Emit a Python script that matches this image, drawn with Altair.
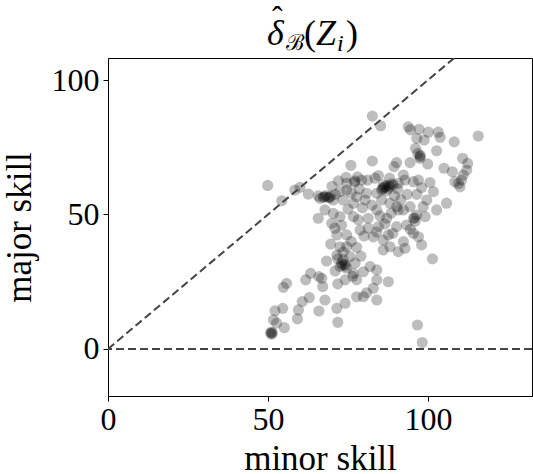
import altair as alt
import pandas as pd

minor = [82.6, 85.2, 93.8, 94.5, 97.2, 100.1, 103.2, 103.8, 96.5, 98.8, 108.2, 115.7, 96.1, 96.8, 97.5,
         102.7, 97.5, 110.8, 112.4, 94.4, 99.9, 90.2, 89.4, 82.6, 75.9, 105.0, 107.6, 112.1, 111.0, 110.5,
         108.4, 110.0, 109.5, 49.9, 54.3, 58.4, 60.0, 62.6, 65.7, 67.3, 68.8, 70.4, 66.3, 68.0, 69.5,
         74.4, 74.6, 77.2, 79.3, 81.1, 83.4, 86.6, 85.5, 87.6, 86.0, 88.0, 87.0, 89.2, 90.7, 92.3,
         92.8, 95.4, 97.0, 100.6, 101.7, 99.6, 98.5, 105.8, 102.7, 99.1, 96.5, 95.5, 96.0, 94.4, 92.3,
         90.2, 88.1, 85.5, 84.0, 80.8, 80.3, 77.7, 76.7, 74.6, 72.5, 73.5, 70.4, 67.8, 65.7, 69.9,
         72.5, 76.7, 78.2, 81.3, 84.0, 87.1, 84.5, 81.3, 78.8, 82.9, 86.0, 87.6, 90.2, 90.7, 93.3,
         95.4, 97.0, 98.0, 92.3, 90.7, 92.8, 86.0, 88.1, 101.4, 70.9, 71.5, 74.6, 69.6, 72.5, 74.6,
         77.7, 71.5, 73.5, 75.6, 77.2, 72.5, 74.6, 73.0, 74.0, 68.3, 81.9, 84.0, 79.8, 76.7, 77.7,
         84.0, 87.6, 74.1, 71.8, 82.9, 80.8, 79.8, 77.7, 84.0, 74.1, 71.5, 71.8, 63.3, 61.8, 66.8,
         67.1, 65.9, 55.8, 54.8, 62.9, 60.7, 59.5, 59.2, 65.9, 67.8, 54.6, 52.2, 51.7, 52.7, 55.1,
         50.8, 51.0, 51.2, 96.7, 98.2, 78.5, 76.0, 79.5, 82.5, 85.0, 88.5, 91.5, 93.5, 96.5, 98.0,
         89.5, 75.0, 73.0, 70.0, 71.0, 72.0, 78.0, 84.5, 90.5, 88.0, 80.0, 84.0, 89.0, 94.5, 73.5,
         76.0, 79.0, 71.0, 76.5, 86.5, 86.2, 87.4, 85.8, 88.6, 67.6, 69.2, 73.2, 74.2, 51.3, 95.8,
         77.0, 71.8, 97.6]

major = [86.6, 83.0, 82.6, 81.5, 81.7, 80.6, 80.6, 78.7, 78.3, 77.7, 77.0, 79.2, 74.6, 72.7, 71.5,
         73.7, 70.9, 70.9, 69.0, 69.3, 68.8, 69.3, 67.8, 69.9, 68.3, 67.2, 65.9, 66.5, 64.7, 62.8,
         62.2, 60.3, 61.5, 60.8, 55.1, 59.1, 60.1, 57.6, 56.9, 56.4, 56.4, 55.4, 56.0, 57.0, 56.8,
         63.8, 61.6, 62.5, 62.8, 62.8, 63.5, 60.3, 59.1, 59.7, 61.0, 60.5, 58.8, 61.0, 61.6, 64.7,
         62.8, 62.2, 62.8, 61.9, 58.5, 55.4, 52.9, 54.2, 51.7, 49.2, 49.8, 48.5, 47.5, 52.9, 51.7,
         52.9, 54.2, 55.4, 57.9, 57.9, 55.4, 56.6, 54.2, 59.1, 58.5, 55.4, 50.4, 51.7, 48.6, 46.7,
         49.2, 49.2, 48.0, 48.6, 51.7, 48.6, 45.5, 44.9, 44.2, 41.7, 40.5, 42.4, 45.5, 51.7, 46.1,
         43.0, 41.7, 38.7, 39.9, 36.2, 37.4, 36.8, 38.0, 33.5, 44.9, 42.4, 42.4, 39.0, 38.0, 38.0,
         37.8, 34.9, 33.1, 34.3, 31.9, 30.6, 30.0, 32.0, 31.5, 32.7, 30.6, 29.4, 28.7, 28.1, 25.7,
         25.7, 25.0, 25.7, 24.2, 22.6, 20.9, 19.4, 19.4, 18.2, 17.0, 15.1, 9.9, 28.1, 25.7, 26.3,
         23.2, 26.9, 24.4, 22.9, 19.1, 17.6, 14.5, 11.2, 14.1, 18.2, 15.1, 14.2, 10.8, 9.6, 7.9,
         5.8, 6.3, 5.5, 8.9, 2.4, 59.5, 58.0, 52.5, 53.5, 49.5, 50.5, 55.5, 57.5, 57.5, 60.0,
         57.0, 52.0, 46.0, 60.5, 57.5, 62.5, 64.0, 64.5, 59.5, 63.5, 42.0, 43.5, 43.0, 44.5, 36.0,
         40.0, 34.5, 29.0, 27.0, 46.5, 60.0, 60.8, 59.6, 61.4, 56.6, 56.2, 31.2, 30.8, 6.0, 48.8,
         62.0, 33.5, 72.0]

x_ticks = [0, 50, 100]
y_ticks = [0, 50, 100]
x_domain = [0, 132.5]
y_domain = [-17.5, 108.2]
diag = [0, 108.2]

FONT = "Liberation Serif"

df = pd.DataFrame({"minor": minor, "major": major})
xs = alt.Scale(domain=x_domain, nice=False, zero=False)
ys = alt.Scale(domain=y_domain, nice=False, zero=False)

xaxis = alt.Axis(values=x_ticks, title="minor skill", grid=False, tickSize=5, labelPadding=3,
                 titlePadding=6, labelFontSize=32, titleFontSize=35, labelFont=FONT, titleFont=FONT,
                 titleFontWeight="normal", labelColor="black", titleColor="black",
                 tickColor="black", domainColor="black", labelFlush=False)
yaxis = alt.Axis(values=y_ticks, title="major skill", grid=False, tickSize=5, labelPadding=4,
                 titlePadding=14, labelFontSize=32, titleFontSize=35, labelFont=FONT, titleFont=FONT,
                 titleFontWeight="normal", labelColor="black", titleColor="black",
                 tickColor="black", domainColor="black", labelFlush=False)

points = alt.Chart(df).mark_circle(size=125, color="black", opacity=0.26).encode(
    x=alt.X("minor:Q", scale=xs, axis=xaxis),
    y=alt.Y("major:Q", scale=ys, axis=yaxis),
)

diag_df = pd.DataFrame({"minor": diag, "major": diag})
diag_line = alt.Chart(diag_df).mark_line(color="#444444", strokeWidth=2, strokeDash=[8, 4], clip=True).encode(
    x=alt.X("minor:Q", scale=xs), y=alt.Y("major:Q", scale=ys))

zero_rule = alt.Chart(pd.DataFrame({"v": [0]})).mark_rule(color="#444444", strokeWidth=2, strokeDash=[8, 4]).encode(
    y=alt.Y("v:Q", scale=ys))

def txt(s, x, y, size, italic=False):
    return alt.Chart(pd.DataFrame({"t": [s]})).mark_text(
        font=FONT, fontSize=size, fontStyle="italic" if italic else "normal",
        align="left", baseline="alphabetic", color="black").encode(
        text="t:N", x=alt.value(x), y=alt.value(y))

title_parts = (txt("δ", 159, -13, 36, True) + txt("ˆ", 164, -30, 32, False) +
               txt("ℬ", 178, -8, 22, False) +
               txt("(", 196, -13, 36) + txt("Z", 208, -13, 36, True) + txt("i", 229, -7, 24, True) +
               txt(")", 238, -13, 36))

chart = alt.layer(points, diag_line, zero_rule, title_parts).properties(
    width=424, height=338, autosize="none",
    padding={"left": 108, "top": 58, "right": 1, "bottom": 78},
).configure_view(stroke="black", strokeWidth=1)

chart.save("out.html", embed_options={"renderer": "svg", "actions": False})
